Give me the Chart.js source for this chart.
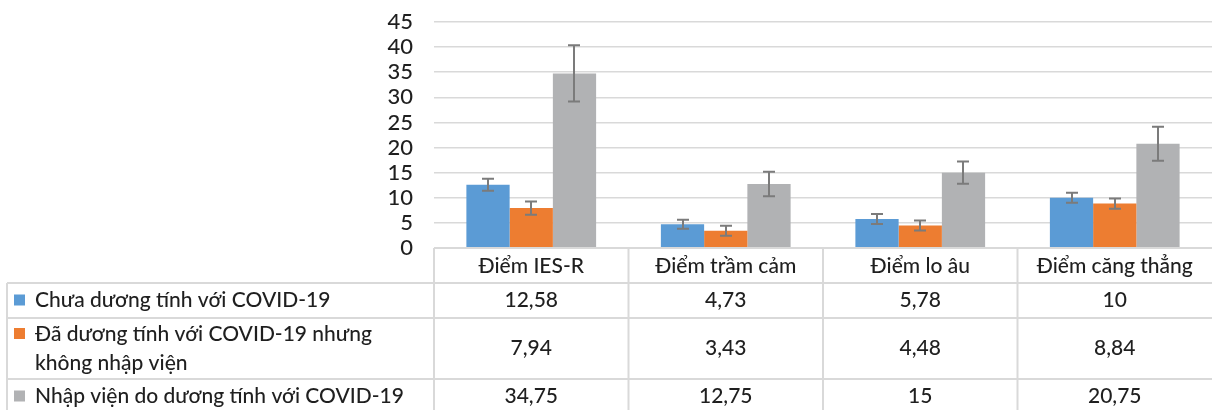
<!DOCTYPE html>
<html lang="vi">
<head>
<meta charset="UTF-8">
<title>Điểm IES-R, trầm cảm, lo âu, căng thẳng</title>
<script src="https://cdn.jsdelivr.net/npm/chart.js"></script>
<style>
  * { margin: 0; padding: 0; box-sizing: border-box; }
  body { background: #fff; }
  #wrap { width: 1212px; height: 410px; }
</style>
</head>
<body>
<div id="wrap"><canvas id="chart" width="1212" height="410"></canvas></div>
<script>
  // categories + series values
  const categories = ['Điểm IES-R', 'Điểm trầm cảm', 'Điểm lo âu', 'Điểm căng thẳng'];
  const seriesNames = [
    ['Chưa dương tính với COVID-19'],
    ['Đã dương tính với COVID-19 nhưng', 'không nhập viện'],
    ['Nhập viện do dương tính với COVID-19']
  ];
  const chuaDuongTinh = [12.58, 4.73, 5.78, 10];
  const duongTinhKhongNhapVien = [7.94, 3.43, 4.48, 8.84];
  const nhapVien = [34.75, 12.75, 15, 20.75];
  // error bar half-widths (estimated)
  const chuaDuongTinhErr = [1.2, 0.9, 1.0, 1.0];
  const duongTinhKhongNhapVienErr = [1.3, 1.0, 1.0, 1.0];
  const nhapVienErr = [5.6, 2.45, 2.2, 3.4];
  const yTicks = [0, 5, 10, 15, 20, 25, 30, 35, 40, 45];

  const colors = ['#5b9bd5', '#ed7d31', '#b1b2b4'];
  const FONT = 'Lato, "Open Sans", sans-serif';
  const TEXT = '#1f1f1f';
  const LINE = '#d9d9d9';

  const seriesValues = [chuaDuongTinh, duongTinhKhongNhapVien, nhapVien];
  const seriesErrors = [chuaDuongTinhErr, duongTinhKhongNhapVienErr, nhapVienErr];

  // error bars
  const errorBars = {
    id: 'errorBars',
    afterDatasetsDraw(chart) {
      const ctx = chart.ctx;
      const y = chart.scales.y;
      ctx.save();
      ctx.strokeStyle = '#7b7b7b';
      ctx.lineWidth = 2;
      chart.data.datasets.forEach((ds, i) => {
        const meta = chart.getDatasetMeta(i);
        meta.data.forEach((bar, j) => {
          const v = ds.data[j], e = seriesErrors[i][j];
          const top = y.getPixelForValue(v + e);
          const bot = y.getPixelForValue(v - e);
          const x = Math.round(bar.x);
          ctx.beginPath();
          ctx.moveTo(x, top); ctx.lineTo(x, bot);
          ctx.moveTo(x - 6, top); ctx.lineTo(x + 6, top);
          ctx.moveTo(x - 6, bot); ctx.lineTo(x + 6, bot);
          ctx.stroke();
        });
      });
      ctx.restore();
    }
  };

  // data table under the plot (Excel style)
  const dataTable = {
    id: 'dataTable',
    afterDraw(chart) {
      const ctx = chart.ctx;
      const x = chart.scales.x;
      const area = chart.chartArea;
      const left = 7, right = area.right;
      const rows = [area.bottom, 283, 318, 379, 414];
      ctx.save();
      ctx.strokeStyle = LINE;
      ctx.lineWidth = 2;
      ctx.beginPath();
      ctx.moveTo(area.left, rows[0]); ctx.lineTo(right, rows[0]);
      for (let r = 1; r < rows.length; r++) {
        ctx.moveTo(left, rows[r]); ctx.lineTo(right, rows[r]);
      }
      ctx.moveTo(left, rows[1]); ctx.lineTo(left, rows[4]);
      const colW = (area.right - area.left) / categories.length;
      for (let c = 0; c < categories.length; c++) {
        const cx = area.left + c * colW;
        ctx.moveTo(cx, rows[0]); ctx.lineTo(cx, rows[4]);
      }
      ctx.stroke();

      ctx.fillStyle = TEXT;
      ctx.font = '500 21px ' + FONT;
      ctx.textAlign = 'center';
      ctx.textBaseline = 'middle';
      categories.forEach((c, i) => {
        ctx.fillText(c, x.getPixelForValue(i), (rows[0] + rows[1]) / 2 + 1);
      });
      seriesValues.forEach((vals, s) => {
        const mid = (rows[s + 1] + rows[s + 2]) / 2;
        vals.forEach((v, i) => {
          ctx.textAlign = 'center';
          ctx.fillText(String(v).replace('.', ','), x.getPixelForValue(i), mid);
        });
        const names = seriesNames[s];
        const lh = 29;
        const first = mid - (names.length - 1) * lh / 2;
        ctx.textAlign = 'left';
        names.forEach((n, k) => ctx.fillText(n, 35, first + k * lh));
        ctx.fillStyle = colors[s];
        ctx.fillRect(14, first - 6, 11, 11);
        ctx.fillStyle = TEXT;
      });
      ctx.restore();
    }
  };

  new Chart(document.getElementById('chart'), {
    type: 'bar',
    data: {
      labels: categories,
      datasets: seriesValues.map((vals, i) => ({
        label: seriesNames[i].join(' '),
        data: vals,
        backgroundColor: colors[i],
        borderWidth: 0,
        categoryPercentage: 0.667,
        barPercentage: 1
      }))
    },
    options: {
      responsive: false,
      animation: false,
      layout: { padding: { top: 22, right: 0, bottom: 162, left: 0 } },
      plugins: { legend: { display: false }, tooltip: { enabled: false } },
      scales: {
        x: { display: false },
        y: {
          min: 0, max: 45,
          afterBuildTicks(scale) { scale.ticks = yTicks.map(v => ({ value: v })); },
          afterFit(scale) {
            scale.width = 434;
            // tick padding would otherwise push the plot down
            scale.paddingTop = 0;
            scale.paddingBottom = 0;
          },
          ticks: { autoSkip: false, font: { family: FONT, size: 22, weight: 500 }, color: TEXT, padding: 21 },
          grid: { color: LINE, lineWidth: 1.5, drawTicks: false },
          border: { display: false }
        }
      }
    },
    plugins: [errorBars, dataTable]
  });
</script>
</body>
</html>
